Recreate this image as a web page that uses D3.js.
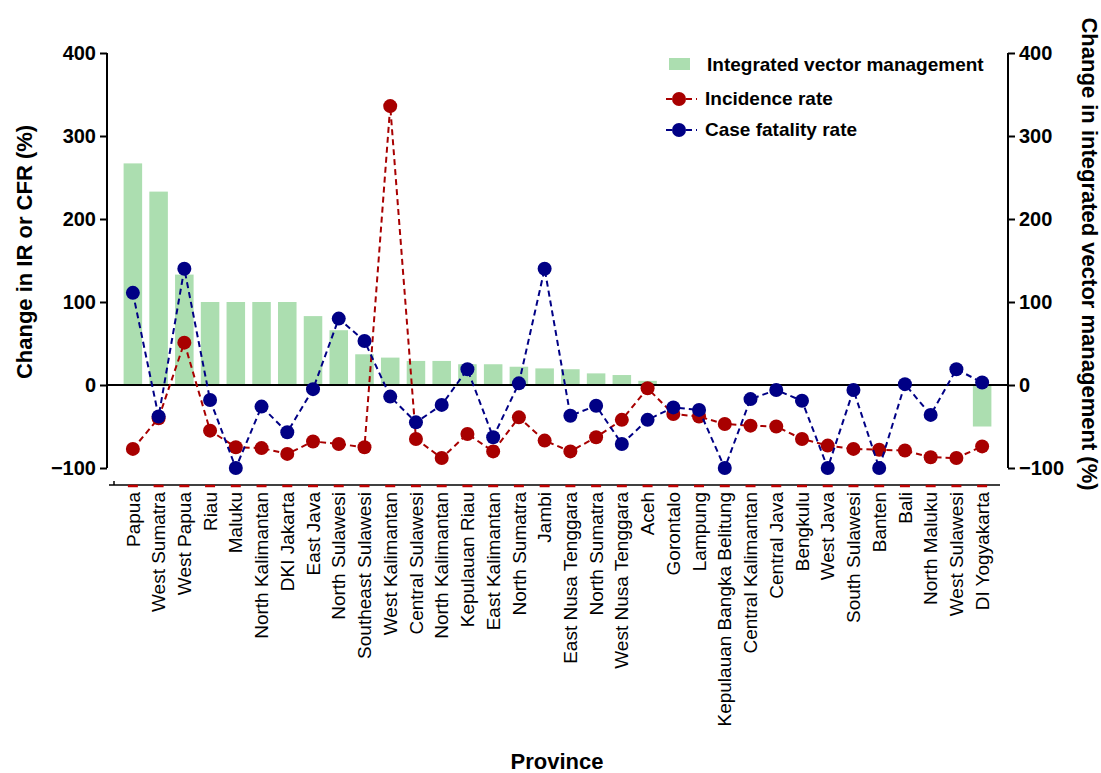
<!DOCTYPE html>
<html lang="en">
<head>
  <meta charset="UTF-8">
  <title>Change in IR, CFR and integrated vector management by province</title>
  <style>
    body { margin: 0; background: #fff; font-family: "Liberation Sans", Arial, sans-serif; }
    .axis path, .axis line { stroke: #000; stroke-width: 2px; }
    .axis text { font: bold 20px "Liberation Sans", Arial, sans-serif; fill: #000; }
    .title { font: bold 22px "Liberation Sans", Arial, sans-serif; fill: #000; }
    .xlab { font: 19px "Liberation Sans", Arial, sans-serif; fill: #000; }
    .legend text { font: bold 19px "Liberation Sans", Arial, sans-serif; fill: #000; }
  </style>
</head>
<body>
  <svg width="1101" height="773"></svg>

  <script src="https://d3js.org/d3.v7.min.js"></script>
  <script>
    const provinces = ["Papua", "West Sumatra", "West Papua", "Riau", "Maluku", "North Kalimantan",
      "DKI Jakarta", "East Java", "North Sulawesi", "Southeast Sulawesi", "West Kalimantan",
      "Central Sulawesi", "North Kalimantan", "Kepulauan Riau", "East Kalimantan", "North Sumatra",
      "Jambi", "East Nusa Tenggara", "North Sumatra", "West Nusa Tenggara", "Aceh", "Gorontalo",
      "Lampung", "Kepulauan Bangka Belitung", "Central Kalimantan", "Central Java", "Bengkulu",
      "West Java", "South Sulawesi", "Banten", "Bali", "North Maluku", "West Sulawesi", "DI Yogyakarta"];

    // change in integrated vector management (%), right axis
    const ivm = [267, 233, 133, 100, 100, 100, 100, 83, 66, 37, 33, 29, 29, 25, 25, 22, 20, 19, 14, 12,
      5, 0, 0, 0, 0, 0, 0, 0, 0, 0, 0, 0, 0, -50];

    // change in incidence rate (%)
    const incidence = [-77, -40, 51, -55, -75, -76, -83, -68, -71, -75, 336, -65, -88, -59, -80, -39,
      -67, -80, -63, -42, -4, -35, -38, -47, -49, -50, -65, -73, -77, -78, -79, -87, -88, -74];

    // change in case fatality rate (%)
    const cfr = [111, -38, 140, -18, -100, -26, -57, -5, 80, 53, -14, -45, -24, 19, -63, 2,
      140, -37, -25, -71, -42, -27, -30, -100, -17, -6, -19, -100, -6, -100, 1, -36, 19, 3];

    const yTicks = [-100, 0, 100, 200, 300, 400];

    const svg = d3.select("svg");
    const plotLeft = 107, plotRight = 1008, plotTop = 53, plotBottom = 468;

    // indices used as keys because one province name appears twice
    const idx = d3.range(provinces.length);

    const x = d3.scaleBand()
      .domain(idx)
      .range([120, 995])
      .paddingInner(0.28)
      .paddingOuter(0.14);

    const yL = d3.scaleLinear().domain([-100, 400]).range([plotBottom, plotTop]);
    const yR = d3.scaleLinear().domain([-100, 400]).range([plotBottom, plotTop]);

    const cx = i => x(i) + x.bandwidth() / 2;

    // bars
    svg.append("g").selectAll("rect")
      .data(idx)
      .join("rect")
      .attr("x", i => x(i))
      .attr("width", x.bandwidth())
      .attr("y", i => yR(Math.max(0, ivm[i])))
      .attr("height", i => Math.abs(yR(ivm[i]) - yR(0)))
      .attr("fill", "#acdeb0");

    // zero line
    svg.append("line")
      .attr("x1", plotLeft).attr("x2", plotRight)
      .attr("y1", yL(0)).attr("y2", yL(0))
      .attr("stroke", "#000").attr("stroke-width", 2);

    // axes
    svg.append("g").attr("class", "axis")
      .attr("transform", `translate(${plotLeft},0)`)
      .call(d3.axisLeft(yL).tickValues(yTicks).tickSize(7).tickPadding(4).tickSizeOuter(0))
      .call(g => g.select(".domain").attr("d", `M0,${plotTop}V${plotBottom}`));

    svg.append("g").attr("class", "axis")
      .attr("transform", `translate(${plotRight},0)`)
      .call(d3.axisRight(yR).tickValues(yTicks).tickSize(7).tickPadding(4).tickSizeOuter(0))
      .call(g => g.select(".domain").attr("d", `M0,${plotTop}V${plotBottom}`));

    // lines
    const series = [
      { values: incidence, color: "#a80000" },
      { values: cfr, color: "#000085" }
    ];

    series.forEach(s => {
      const line = d3.line().x(i => cx(i)).y(i => yL(s.values[i]));
      svg.append("path")
        .datum(idx)
        .attr("d", line)
        .attr("fill", "none")
        .attr("stroke", s.color)
        .attr("stroke-width", 2)
        .attr("stroke-dasharray", "6,4");
      svg.append("g").selectAll("circle")
        .data(idx)
        .join("circle")
        .attr("cx", i => cx(i))
        .attr("cy", i => yL(s.values[i]))
        .attr("r", 7)
        .attr("fill", s.color);
    });

    // bottom category axis
    const xAxisY = 485;
    svg.append("line")
      .attr("x1", 109).attr("x2", 1000)
      .attr("y1", xAxisY).attr("y2", xAxisY)
      .attr("stroke", "#000").attr("stroke-width", 1.5);
    svg.append("line")
      .attr("x1", 114).attr("x2", 114)
      .attr("y1", xAxisY - 4).attr("y2", xAxisY)
      .attr("stroke", "#000").attr("stroke-width", 1.5);
    svg.append("g").selectAll("line")
      .data(idx)
      .join("line")
      .attr("x1", i => cx(i) - 5).attr("x2", i => cx(i) + 5)
      .attr("y1", xAxisY + 1).attr("y2", xAxisY + 1)
      .attr("stroke", "#c00000").attr("stroke-width", 2.5);

    svg.append("g").selectAll("text")
      .data(idx)
      .join("text")
      .attr("class", "xlab")
      .attr("transform", i => `translate(${cx(i)},${xAxisY + 7}) rotate(-90)`)
      .attr("text-anchor", "end")
      .attr("dy", "0.35em")
      .text(i => provinces[i]);

    // axis titles
    svg.append("text").attr("class", "title")
      .attr("transform", "translate(32,252) rotate(-90)")
      .attr("text-anchor", "middle")
      .text("Change in IR or CFR (%)");

    svg.append("text").attr("class", "title")
      .attr("transform", "translate(1082,254) rotate(90)")
      .attr("text-anchor", "middle")
      .text("Change in integrated vector management (%)");

    svg.append("text").attr("class", "title")
      .attr("x", 557).attr("y", 769)
      .attr("text-anchor", "middle")
      .text("Province");

    // legend
    const legend = svg.append("g").attr("class", "legend");
    legend.append("rect")
      .attr("x", 669).attr("y", 58).attr("width", 21).attr("height", 12)
      .attr("fill", "#acdeb0");
    legend.append("text").attr("x", 707).attr("y", 71).text("Integrated vector management");

    [{ label: "Incidence rate", color: "#a80000", y: 99 },
     { label: "Case fatality rate", color: "#000085", y: 130 }].forEach(d => {
      legend.append("line")
        .attr("x1", 666).attr("x2", 697)
        .attr("y1", d.y).attr("y2", d.y)
        .attr("stroke", d.color).attr("stroke-width", 2)
        .attr("stroke-dasharray", "6,4");
      legend.append("circle")
        .attr("cx", 679).attr("cy", d.y).attr("r", 7)
        .attr("fill", d.color);
      legend.append("text").attr("x", 705).attr("y", d.y + 6).text(d.label);
    });
  </script>
</body>
</html>
